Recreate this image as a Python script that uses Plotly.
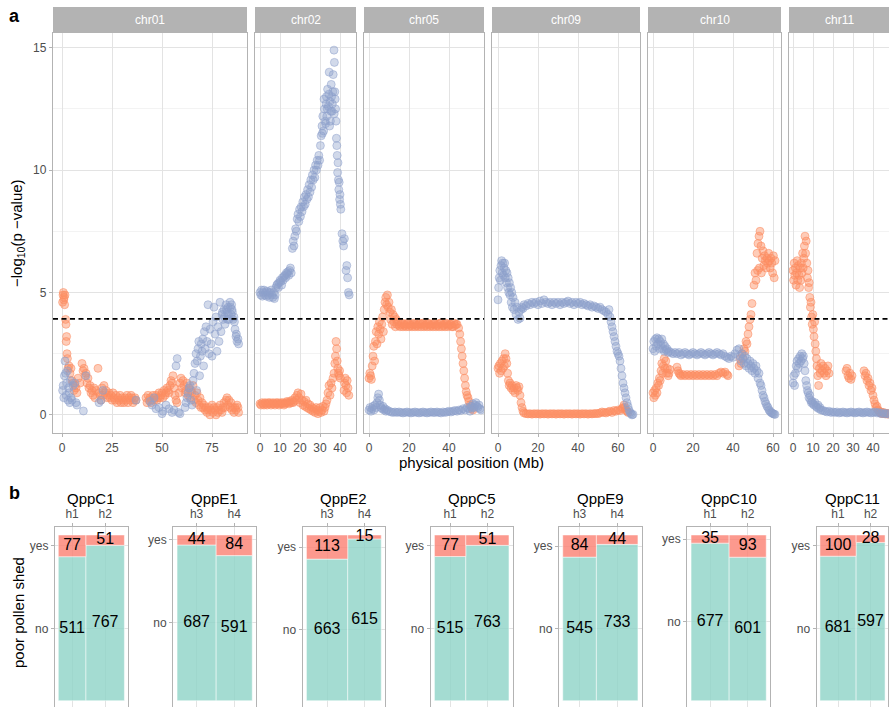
import plotly.graph_objects as go

# ---------------- DATA ----------------
THRESHOLD = 3.92

CHR01_BLUE = [(0.3,1.0),(0.6,1.2),(0.9,0.7),(1.2,1.6),(1.5,2.2),(1.8,1.7),(2.1,0.8),(2.4,1.3),(2.7,1.8),(3.0,0.6),(3.3,1.1),(3.6,0.9),(3.9,0.5),(4.2,1.4),(4.5,0.7),(5.0,0.6),(5.5,1.2),(6.5,1.3),(7.0,0.5),(7.5,0.4),(10.7,0.16),(12.0,1.6),(18.5,0.5),(19.5,0.6),(20.5,1.0),(37.0,0.6),(44.0,0.55),(45.0,0.4),(46.0,0.7),(47.0,0.25),(48.5,0.3),(50.0,0.05),(50.5,0.15),(52.0,0.4),(53.5,0.25),(55.0,0.1),(56.0,0.2),(57.0,2.0),(57.6,2.3),(58.3,0.1),(59.0,0.05),
              (61.5,0.3),(62.0,0.5),(62.5,0.7),(63.0,0.9),(63.5,1.1),(64.0,1.2),(64.5,0.6),(65.0,0.4),(65.5,1.4),(66.0,1.7),(66.5,2.1),(67.0,2.5),(67.3,1.0),(67.6,2.2),(68.0,2.7),(68.4,3.0),(68.8,1.6),(69.2,2.4),(69.6,2.9),(70.0,2.6),(70.4,3.1),(70.8,2.0),(71.2,3.4),(71.6,2.7),(72.0,3.6),(72.5,3.0),(73.0,4.5),(73.5,2.5),(74.0,3.5),(74.5,2.9),(75.0,2.4),(75.5,3.8),(76.0,4.4),(76.5,3.3),(77.0,4.0),(77.5,2.6),(78.0,3.6),(78.5,3.0),(79.0,4.6),(79.5,3.4),(80.0,4.1),(80.2,4.2),(80.5,3.9),(81.0,4.3),(81.2,4.0),(81.5,3.7),(82.0,4.5),(82.2,4.3),(82.5,4.2),(82.8,3.9),(83.0,4.4),(83.2,4.1),(83.5,3.9),(84.0,4.6),(84.2,4.4),(84.5,4.1),(84.8,4.5),(85.0,4.3),(85.2,4.2),(85.5,3.9),(86.0,4.0),(86.2,3.8),(86.5,3.5),(87.0,3.2),(87.2,3.3),(87.5,3.0),(88.0,3.1),(88.3,2.9)]

CHR01_ORANGE = [(0.3,4.6),(0.5,4.9),(0.7,5.0),(0.9,4.7),(1.1,4.8),(1.3,4.5),(1.5,4.9),(1.8,3.9),(2.0,3.7),(2.1,3.0),(2.3,3.2),(2.5,2.5),(2.7,2.3),(3.0,1.9),(3.5,2.0),(4.0,1.7),(4.5,1.9),(5.0,1.4),(5.5,1.3),(6.0,1.0),(6.5,1.2),(7.0,1.1),(7.5,0.9),(8.0,1.5),(9.0,1.3),(10.0,2.1),(10.5,1.8),(11.0,1.9),(11.5,1.6),(12.0,1.7),(12.5,1.3),(13.0,1.5),(13.5,1.1),(14.0,1.2),(14.5,0.9),(15.0,1.0),(15.5,0.8),(16.0,1.1),(16.5,0.7),(17.0,1.0),(18.0,1.9),(18.5,0.9),(19.0,0.8),(19.5,0.6),(20.0,1.1),(20.5,0.8),(21.0,1.2),(21.5,0.9),(22.0,1.0),(22.5,0.7),(23.0,0.8),(23.5,0.9),(24.0,0.7),(24.5,0.8),(25.0,0.6),(25.5,0.9),(26.0,0.7),(26.5,0.6),(27.0,0.8),(27.5,0.5),(28.0,0.7),(28.5,0.6),(29.0,0.8),(29.5,0.5),(30.0,0.7),(30.5,0.6),(31.0,0.5),(31.5,0.7),(32.0,0.6),(32.5,0.8),(33.0,0.5),(33.5,0.7),(34.0,0.6),(34.5,0.8),(35.0,0.7),(35.5,0.5),(36.0,0.6),(36.5,0.7),(37.0,0.6),
                (42.0,0.7),(42.5,0.5),(43.0,0.8),(43.5,0.6),(44.0,0.7),(44.5,0.5),(45.0,0.6),(45.5,0.8),(46.0,0.6),(46.5,0.7),(47.0,0.8),(47.5,0.6),(48.0,0.7),(48.5,0.9),(49.0,0.7),(49.5,0.8),(50.0,0.9),(50.5,0.7),(51.0,1.0),(51.5,0.8),(52.0,0.9),(52.5,1.1),(53.0,1.0),(53.5,0.9),(54.0,1.2),(54.5,1.4),(55.0,1.3),(55.5,1.6),(56.0,1.1),(56.5,0.8),(57.0,0.6),(57.5,0.5),(58.5,0.9),(59.0,1.3),(59.5,1.5),(60.0,1.1),(60.5,1.4),(61.0,1.2),(61.5,0.9),(62.0,1.0),(62.5,1.3),(63.0,0.8),(63.5,1.1),(64.0,0.7),(64.5,1.0),(65.0,0.9),(65.5,1.2),(66.0,0.6),(66.5,0.8),(67.0,0.5),(67.5,0.9),(68.0,0.6),(68.5,0.4),(69.0,0.7),(69.5,0.3),(70.0,0.5),(70.5,0.3),(71.0,0.4),(71.5,0.2),(72.0,0.3),(72.5,0.1),(73.0,0.2),(73.5,0.3),(74.0,0.0),(74.5,0.2),(75.0,0.4),(75.5,0.1),(76.0,0.3),(76.5,0.2),(77.0,0.0),(77.5,0.3),(78.0,0.1),(78.5,0.2),(79.0,0.4),(79.5,0.2),(80.0,0.1),(80.5,0.3),(81.0,0.5),(81.5,0.3),(82.0,0.6),(82.5,0.7),(83.0,0.4),(83.5,0.6),(84.0,0.3),(84.5,0.5),(85.0,0.2),(85.5,0.3),(86.0,0.1),(86.5,0.3),(87.0,0.2),(87.5,0.4),(88.0,0.3),(88.3,0.1)]

CHR02_BLUE = [(0.0,5.0),(0.4,4.9),(0.8,5.1),(1.2,4.85),(1.6,5.0),(2.0,5.1),(2.4,4.9),(2.8,5.0),(3.2,4.85),(3.6,5.05),(4.0,4.9),(4.4,5.0),(4.8,4.8),(5.2,5.0),(5.6,5.1),(6.0,4.9),(6.4,4.8),(6.8,5.0),(7.2,4.75),(7.6,4.9),(8.0,5.2),(8.4,5.3),(8.8,5.35),(9.2,5.2),(9.6,5.4),(10.0,5.5),(10.4,5.45),(10.8,5.3),(11.2,5.6),(11.6,5.5),(12.0,5.65),(12.4,5.7),(12.8,5.6),(13.2,5.8),(13.6,5.75),(14.0,5.85),(14.4,5.7),(14.8,5.9),(15.2,6.0),(15.6,5.8),(16.2,6.8),(16.6,7.1),(17.0,6.9),(17.4,7.3),(17.8,7.6),(18.2,7.5),(18.6,8.0),(19.0,8.2),(19.4,7.9),(19.8,8.4),(20.2,8.1),(20.6,8.5),(21.0,8.3),(21.4,8.7),(21.8,8.5),(22.2,8.9),(22.6,8.6),(23.0,9.0),(23.4,8.8),(23.8,9.2),(24.2,8.9),(24.6,9.4),(25.0,9.1),(25.4,9.6),(25.8,9.3),(26.2,9.8),(26.6,9.6),(27.0,10.0),(27.4,9.7),(27.8,10.2),(28.2,10.0),(28.6,10.4),(29.0,10.2),(29.4,10.6),(29.8,10.4),(30.2,11.0),(30.6,11.4),(31.0,11.8),(31.2,11.5),(31.4,12.2),(31.8,11.6),(32.0,12.9),(32.2,12.5),(32.6,12.0),(32.8,11.9),(33.0,12.7),(33.2,13.0),(33.4,12.2),(33.6,12.5),(33.8,13.3),(34.2,12.6),(34.4,13.1),(34.6,14.0),(34.8,11.8),(35.0,12.8),(35.2,12.0),(35.4,12.4),(35.6,13.5),(35.8,13.0),(36.0,12.4),(36.2,12.7),(36.4,13.2),(36.6,13.9),(37.0,14.9),(37.1,12.3),(37.2,14.4),(37.4,13.2),(37.6,12.9),(37.8,12.5),(38.0,12.0),(38.2,11.3),(38.4,11.0),(38.6,10.6),(38.8,9.9),(39.0,10.3),(39.2,9.6),(39.4,9.2),(39.6,9.5),(39.8,8.8),(40.0,9.0),(40.2,8.6),(40.4,8.4),(41.0,7.4),(41.4,7.1),(41.8,6.9),(42.2,7.2),(43.0,5.9),(43.4,6.1),(43.8,5.6),(44.2,5.0),(44.6,4.9)]

CHR02_ORANGE = [(0.0,0.45),(0.5,0.4),(1.0,0.5),(1.5,0.45),(2.0,0.4),(2.5,0.5),(3.0,0.45),(3.5,0.4),(4.0,0.5),(4.5,0.45),(5.0,0.5),(5.5,0.4),(6.0,0.45),(6.5,0.5),(7.0,0.45),(7.5,0.4),(8.0,0.5),(8.5,0.45),(9.0,0.5),(9.5,0.4),(10.0,0.45),(10.5,0.5),(11.0,0.45),(11.5,0.5),(12.0,0.4),(12.5,0.45),(13.0,0.5),(13.5,0.55),(14.0,0.5),(14.5,0.45),(15.0,0.55),(15.5,0.5),(16.0,0.6),(16.5,0.5),(17.0,0.55),(17.5,0.7),(18.0,0.6),(18.5,0.8),(19.0,0.9),(19.5,0.7),(20.0,0.5),(20.5,0.85),(21.0,0.6),(21.5,0.4),(22.0,0.55),(22.5,0.35),(23.0,0.6),(23.5,0.3),(24.0,0.45),(24.5,0.25),(25.0,0.4),(25.5,0.2),(26.0,0.3),(26.5,0.15),(27.0,0.25),(27.5,0.1),(28.0,0.3),(28.5,0.2),(29.0,0.05),(29.5,0.15),(30.0,0.3),(30.5,0.1),(31.0,0.2),(31.5,0.35),(32.0,0.15),(32.5,0.3),(33.0,0.45),(33.5,0.6),(34.0,0.9),(34.5,1.2),(35.0,0.8),(35.5,1.3),(36.0,1.1),(36.5,1.5),(37.0,1.7),(37.4,2.1),(37.7,2.4),(38.0,3.0),(38.3,2.7),(38.6,2.2),(38.9,1.9),(39.2,1.7),(39.5,1.6),(39.8,1.8),(40.2,1.5),(42.0,1.0),(42.3,1.3),(42.6,1.5),(43.0,1.2),(43.3,0.9),(43.6,1.4),(44.0,1.1),(44.4,0.8)]

CHR05_BLUE = [(0.0,0.2),(0.5,0.3),(1.0,0.15),(1.5,0.25),(2.0,0.35),(2.5,0.2),(3.0,0.4),(3.5,0.3),(4.0,0.5),(4.4,0.7),(4.8,0.85),(5.2,0.6),(5.6,0.4),(6.0,0.3),(6.5,0.25),(7.0,0.35),(7.5,0.2),(8.0,0.25),(8.5,0.15),(9.0,0.2),(10.0,0.15),(11.0,0.12),(12.0,0.1),(13.0,0.12),(14.0,0.1),(15.0,0.12),(16.0,0.1),(17.0,0.08),(18.0,0.1),(19.0,0.12),(20.0,0.1),(21.0,0.08),(22.0,0.1),(23.0,0.12),(24.0,0.1),(25.0,0.08),(26.0,0.1),(27.0,0.12),(28.0,0.1),(29.0,0.08),(30.0,0.1),(31.0,0.12),(32.0,0.1),(33.0,0.1),(34.0,0.12),(35.0,0.1),(36.0,0.08),(37.0,0.12),(38.0,0.1),(39.0,0.12),(40.0,0.15),(41.0,0.12),(42.0,0.15),(43.0,0.18),(44.0,0.15),(45.0,0.2),(46.0,0.18),(47.0,0.25),(48.0,0.2),(49.0,0.3),(50.0,0.25),(50.5,0.15),(51.0,0.35),(51.5,0.3),(52.0,0.45),(52.5,0.3),(53.0,0.4),(53.5,0.5),(54.0,0.35),(54.5,0.3),(55.0,0.4),(55.5,0.25),(56.0,0.2)]

CHR05_ORANGE = [(0.0,1.5),(0.4,1.7),(0.8,1.6),(1.2,1.45),(1.6,2.0),(2.0,2.4),(2.4,2.8),(2.8,2.2),(3.2,3.0),(3.6,3.4),(4.0,2.9),(4.4,3.6),(4.8,3.3),(5.2,3.8),(5.6,3.5),(6.0,3.1),(6.4,3.7),(6.8,4.0),(7.2,3.4),(7.6,4.3),(8.0,4.6),(8.4,4.8),(8.8,4.5),(9.2,4.9),(9.6,4.4),(10.0,4.6),(10.4,4.2),(10.8,3.9),(11.2,4.3),(11.6,3.7),(12.0,4.1),(12.4,3.8),(12.8,4.0),(13.2,3.6),(13.6,3.9),(14.0,3.7),(14.5,3.8),(15.0,3.65),(15.5,3.6),(16.0,3.7),(16.5,3.75),(17.0,3.6),(17.5,3.7),(18.0,3.65),(18.5,3.6),(19.0,3.7),(19.5,3.75),(20.0,3.6),(20.5,3.7),(21.0,3.65),(21.5,3.6),(22.0,3.7),(22.5,3.75),(23.0,3.6),(23.5,3.7),(24.0,3.65),(24.5,3.6),(25.0,3.7),(25.5,3.75),(26.0,3.6),(26.5,3.7),(27.0,3.75),(27.5,3.6),(28.0,3.65),(28.5,3.7),(29.0,3.6),(29.5,3.75),(30.0,3.7),(30.5,3.6),(31.0,3.65),(31.5,3.7),(32.0,3.6),(32.5,3.75),(33.0,3.7),(33.5,3.6),(34.0,3.65),(34.5,3.7),(35.0,3.6),(35.5,3.75),(36.0,3.75),(36.5,3.6),(37.0,3.65),(37.5,3.7),(38.0,3.6),(38.5,3.75),(39.0,3.7),(39.5,3.6),(40.0,3.65),(40.5,3.7),(41.0,3.7),(41.5,3.6),(42.0,3.6),(42.5,3.75),(43.0,3.65),(43.5,3.7),(44.0,3.7),(44.8,3.55),(45.4,3.3),(45.8,3.0),(46.2,2.7),(46.6,2.4),(47.0,2.1),(47.4,1.8),(47.8,1.5),(48.2,1.2),(48.6,0.95),(49.0,0.8),(49.5,0.7),(50.0,0.55),(50.5,0.4),(51.0,0.35),(51.5,0.25),(52.0,0.2)]

CHR09_BLUE = [(0.0,4.7),(0.3,5.2),(0.6,5.6),(0.9,5.9),(1.2,5.5),(1.5,6.1),(1.8,6.3),(2.1,5.8),(2.4,6.2),(2.7,5.7),(3.0,6.0),(3.3,6.2),(3.6,5.6),(3.9,5.9),(4.2,5.4),(4.5,5.8),(4.8,5.2),(5.1,5.6),(5.4,5.0),(5.7,5.4),(6.0,4.9),(6.3,5.2),(6.6,4.6),(6.9,5.0),(7.2,4.4),(7.5,4.8),(8.0,4.3),(8.5,4.6),(9.0,4.1),(9.5,4.4),(10.0,3.9),(10.5,4.2),(11.0,3.95),(11.5,4.3),(12.0,4.4),(12.5,4.35),(13.0,4.5),(14.0,4.45),(15.0,4.55),(16.0,4.5),(17.0,4.6),(18.0,4.55),(19.0,4.6),(20.0,4.5),(21.0,4.65),(22.0,4.55),(23.0,4.7),(24.0,4.6),(25.0,4.55),(26.0,4.6),(27.0,4.5),(28.0,4.6),(29.0,4.55),(30.0,4.6),(31.0,4.5),(32.0,4.6),(33.0,4.55),(34.0,4.6),(35.0,4.65),(36.0,4.55),(37.0,4.6),(38.0,4.5),(39.0,4.6),(40.0,4.55),(41.0,4.6),(42.0,4.5),(43.0,4.55),(44.0,4.5),(45.0,4.45),(46.0,4.5),(47.0,4.4),(48.0,4.45),(49.0,4.4),(50.0,4.35),(51.0,4.4),(52.0,4.3),(53.0,4.25),(54.0,4.2),(55.0,4.1),(55.5,4.3),(56.0,4.0),(56.5,3.8),(57.0,3.6),(57.5,3.4),(58.0,3.2),(58.5,3.0),(59.0,2.8),(59.5,2.6),(60.0,2.5),(60.5,2.4),(61.0,2.2),(61.5,1.9),(62.0,1.6),(62.5,1.3),(63.0,1.1),(63.5,0.9),(64.0,0.7),(64.5,0.5),(65.0,0.35),(65.5,0.2),(66.0,0.1),(66.5,0.05),(67.0,0.0),(67.5,0.02)]

CHR09_ORANGE = [(0.0,1.9),(0.4,2.0),(0.8,1.7),(1.2,2.1),(1.6,1.8),(2.0,2.2),(2.4,1.9),(2.8,2.3),(3.2,2.0),(3.6,2.5),(4.0,2.3),(4.4,2.1),(4.8,1.7),(5.2,1.4),(5.6,1.2),(6.0,1.3),(6.5,1.1),(7.0,1.2),(7.5,1.0),(8.0,1.1),(8.5,0.9),(9.0,1.2),(9.5,1.1),(10.0,1.0),(10.5,1.15),(11.0,0.8),(11.5,0.5),(12.0,0.3),(12.5,0.15),(13.0,0.08),(14.0,0.05),(15.0,0.04),(16.0,0.05),(17.0,0.03),(18.0,0.05),(19.0,0.04),(20.0,0.05),(21.0,0.03),(22.0,0.05),(23.0,0.04),(24.0,0.05),(25.0,0.03),(26.0,0.05),(27.0,0.04),(28.0,0.05),(29.0,0.03),(30.0,0.05),(31.0,0.04),(32.0,0.05),(33.0,0.03),(34.0,0.05),(35.0,0.04),(36.0,0.05),(37.0,0.03),(38.0,0.05),(39.0,0.04),(40.0,0.05),(41.0,0.03),(42.0,0.05),(43.0,0.04),(44.0,0.05),(45.0,0.03),(46.0,0.05),(47.0,0.04),(48.0,0.05),(49.0,0.06),(50.0,0.05),(51.0,0.08),(52.0,0.12),(53.0,0.1),(54.0,0.08),(55.0,0.12),(56.0,0.15),(57.0,0.1),(58.0,0.18),(59.0,0.15),(60.0,0.2),(61.0,0.18),(62.0,0.25),(62.5,0.3),(63.0,0.4),(63.5,0.3),(64.0,0.2),(64.5,0.15),(65.0,0.1)]

CHR10_BLUE = [(0.0,2.7),(0.4,3.0),(0.8,2.6),(1.2,3.1),(1.6,2.8),(2.0,3.15),(2.4,2.9),(2.8,3.1),(3.2,2.7),(3.6,3.0),(4.0,2.85),(4.4,3.1),(4.8,2.7),(5.2,2.9),(5.6,2.6),(6.0,2.8),(6.5,2.65),(7.0,2.7),(7.5,2.55),(8.0,2.6),(9.0,2.55),(10.0,2.5),(11.0,2.55),(12.0,2.5),(13.0,2.55),(14.0,2.45),(15.0,2.5),(16.0,2.55),(17.0,2.5),(18.0,2.45),(19.0,2.5),(20.0,2.55),(21.0,2.5),(22.0,2.45),(23.0,2.5),(24.0,2.55),(25.0,2.5),(26.0,2.45),(27.0,2.5),(28.0,2.55),(29.0,2.5),(30.0,2.45),(31.0,2.5),(32.0,2.55),(33.0,2.5),(34.0,2.45),(35.0,2.5),(36.0,2.4),(37.0,2.35),(38.0,2.3),(39.0,2.4),(40.0,2.35),(41.0,2.5),(42.0,2.65),(43.0,2.7),(43.5,2.4),(44.0,2.2),(44.5,2.5),(45.0,2.3),(45.5,2.1),(46.0,2.4),(46.5,2.0),(47.0,2.3),(47.5,2.1),(48.0,1.9),(48.5,2.2),(49.0,2.0),(49.5,1.8),(50.0,2.1),(50.5,1.9),(51.0,1.7),(51.5,2.0),(52.0,1.8),(52.5,1.5),(53.0,1.7),(53.5,1.3),(54.0,1.2),(54.5,1.0),(55.0,0.8),(55.5,0.7),(56.0,0.55),(56.5,0.45),(57.0,0.35),(57.5,0.3),(58.0,0.2),(58.5,0.15),(59.0,0.1),(59.5,0.08),(60.0,0.05),(60.5,0.03),(61.0,0.02)]

CHR10_ORANGE = [(0.0,0.9),(0.4,0.7),(0.8,1.0),(1.2,0.8),(1.6,1.1),(2.0,0.9),(2.4,1.3),(2.8,1.2),(3.2,1.5),(3.6,1.4),(4.0,1.8),(4.4,2.1),(4.8,1.7),(5.2,2.0),(5.6,2.3),(6.0,1.9),(6.4,2.2),(6.8,1.7),(7.2,1.9),(7.6,1.6),(8.0,1.7),(8.5,1.85),(12.0,1.95),(12.5,1.8),(13.0,1.7),(13.5,1.65),(14.0,1.6),(15.0,1.65),(16.0,1.6),(17.0,1.65),(18.0,1.6),(19.0,1.65),(20.0,1.6),(21.0,1.65),(22.0,1.6),(23.0,1.65),(24.0,1.6),(25.0,1.65),(26.0,1.6),(27.0,1.65),(28.0,1.6),(29.0,1.65),(30.0,1.6),(31.0,1.65),(32.0,1.6),(33.0,1.7),(34.0,1.75),(35.0,1.7),(36.0,1.75),(37.0,1.65),(37.5,1.6),(43.0,2.0),(43.5,2.3),(44.0,2.1),(44.5,2.5),(45.0,2.3),(45.5,2.7),(46.0,2.6),(46.5,3.0),(47.0,2.9),(47.5,3.3),(48.0,3.6),(48.5,3.9),(49.0,4.1),(49.5,4.55),(50.5,5.3),(51.0,5.8),(51.5,5.5),(52.0,6.6),(52.3,5.9),(52.5,7.0),(53.0,7.3),(53.2,6.0),(53.5,7.5),(54.0,6.9),(54.2,5.8),(54.6,6.4),(55.0,6.7),(55.4,6.1),(55.8,6.5),(56.2,6.3),(56.6,6.0),(57.0,6.4),(57.4,6.2),(57.8,6.6),(58.2,6.3),(58.6,6.0),(59.0,6.4),(59.4,6.2),(59.8,5.8),(60.2,6.5),(60.6,5.6),(61.0,6.3)]

CHR11_BLUE = [(0.0,1.3),(0.4,1.6),(0.8,1.2),(1.2,1.7),(1.6,2.0),(2.0,2.2),(2.4,1.9),(2.8,2.3),(3.2,2.1),(3.6,2.4),(4.0,2.2),(4.4,2.5),(4.8,2.3),(5.2,2.4),(5.6,2.1),(6.0,1.8),(6.4,1.4),(6.8,1.2),(7.2,1.0),(7.6,0.9),(8.0,0.7),(8.4,0.8),(8.8,0.6),(9.2,0.5),(9.6,0.55),(10.0,0.45),(10.5,0.4),(11.0,0.5),(11.5,0.35),(12.0,0.3),(12.5,0.4),(13.0,0.25),(13.5,0.3),(14.0,0.2),(15.0,0.18),(16.0,0.15),(17.0,0.12),(18.0,0.15),(19.0,0.1),(20.0,0.12),(21.0,0.1),(22.0,0.12),(23.0,0.08),(24.0,0.1),(25.0,0.12),(26.0,0.1),(27.0,0.08),(28.0,0.1),(29.0,0.12),(30.0,0.1),(31.0,0.08),(32.0,0.1),(33.0,0.12),(34.0,0.1),(35.0,0.08),(36.0,0.1),(37.0,0.12),(38.0,0.1),(39.0,0.08),(40.0,0.1),(41.0,0.12),(42.0,0.08),(43.0,0.1),(44.0,0.05),(45.0,0.08),(46.0,0.04),(47.0,0.06),(48.0,0.03)]

CHR11_ORANGE = [(0.0,5.9),(0.3,5.5),(0.6,6.2),(0.9,5.7),(1.2,6.0),(1.5,5.3),(1.8,5.8),(2.1,6.3),(2.4,5.5),(2.7,6.1),(3.0,5.7),(3.3,5.2),(3.6,6.0),(3.9,5.5),(4.2,6.2),(4.5,5.8),(4.8,6.6),(5.1,6.0),(5.4,6.4),(5.7,6.9),(6.0,7.3),(6.3,6.6),(6.6,7.1),(6.9,6.2),(7.2,5.6),(7.5,5.9),(7.8,5.2),(8.1,5.4),(8.4,4.8),(8.7,4.4),(9.0,4.6),(9.3,4.0),(9.6,3.7),(9.9,4.1),(10.2,3.5),(10.5,3.2),(10.8,3.8),(11.1,2.9),(11.4,2.6),(11.7,2.3),(12.0,2.0),(12.4,1.6),(12.8,1.2),(13.2,1.9),(13.6,1.7),(14.0,2.1),(14.5,1.8),(15.0,2.0),(15.5,1.7),(16.0,1.9),(16.5,1.6),(17.0,1.8),(17.5,2.0),(18.0,1.7),(26.5,1.8),(27.0,1.9),(27.5,1.6),(28.0,1.5),(28.5,1.7),(29.0,1.45),(29.5,1.6),(35.5,1.8),(36.0,1.6),(36.5,1.7),(37.0,1.4),(37.5,1.5),(38.0,1.2),(38.5,1.3),(39.0,1.0),(39.5,1.1),(40.0,0.8),(40.5,0.6),(41.0,0.45),(41.5,0.3),(42.0,0.35),(42.5,0.2),(43.0,0.15),(43.5,0.1),(44.0,0.12),(44.5,0.05),(45.0,0.1),(45.5,0.05),(46.0,0.08),(46.5,0.04),(47.0,0.06),(47.5,0.03),(48.0,0.05)]

CHROMOSOMES = ["chr01", "chr02", "chr05", "chr09", "chr10", "chr11"]
ORANGE_SERIES = [CHR01_ORANGE, CHR02_ORANGE, CHR05_ORANGE, CHR09_ORANGE, CHR10_ORANGE, CHR11_ORANGE]
BLUE_SERIES = [CHR01_BLUE, CHR02_BLUE, CHR05_BLUE, CHR09_BLUE, CHR10_BLUE, CHR11_BLUE]
TOP_XTICKS = [[0, 25, 50, 75], [0, 10, 20, 30, 40], [0, 20, 40], [0, 20, 40, 60], [0, 20, 40, 60], [0, 10, 20, 30, 40]]
TOP_YTICKS = [0, 5, 10, 15]
TOP_YMINOR = [2.5, 7.5, 12.5]

MOSAIC_TITLES = ["QppC1", "QppE1", "QppE2", "QppC5", "QppE9", "QppC10", "QppC11"]
MOSAIC_HAPS = [["h1", "h2"], ["h3", "h4"], ["h3", "h4"], ["h1", "h2"], ["h3", "h4"], ["h1", "h2"], ["h1", "h2"]]
MOSAIC_YES = [[77, 51], [44, 84], [113, 15], [77, 51], [84, 44], [35, 93], [100, 28]]
MOSAIC_NO = [[511, 767], [687, 591], [663, 615], [515, 763], [545, 733], [677, 601], [681, 597]]

# ---------------- LAYOUT / STYLE ----------------
W, H = 889, 707
FONT = "Liberation Sans, Arial, Helvetica, sans-serif"
GRID = "#E3E3E3"
GRID_MINOR = "#EEEEEE"
BORDER = "#B3B3B3"
TICKTXT = "#4D4D4D"
BLUE_FILL = "rgba(141,160,203,0.40)"
BLUE_LINE = "rgba(141,160,203,0.50)"
ORANGE_FILL = "rgba(252,141,98,0.45)"
ORANGE_LINE = "rgba(252,141,98,0.55)"
NO_FILL = "rgba(141,211,199,0.8)"
YES_FILL = "rgba(251,128,114,0.8)"


def fx(p):
    return p / W


def fy(p):
    return 1 - p / H


TOP_DOM_PX = [(53, 247), (255, 356), (364, 484), (492, 640), (648, 781), (789, 889)]
TOP_XRANGE = [[-4.5, 92.5], [-2.5, 48], [-2.5, 57.5], [-3, 71], [-2.5, 64], [-2, 48]]
TOP_Y_PX = (33, 433)
TOP_YRANGE = [-0.74, 15.6]
STRIP_PX = (7, 33)

MOS_DOM_PX = [(55, 127.7), (173.3, 256), (302.7, 385), (430.7, 512.7), (559, 641.7), (687.3, 770), (816.7, 888.3)]
MOS_TOP_PX = 526.7
MOS_YRANGE = [-0.038, 1.05]
MOS_XRANGE = [-0.05, 1.05]

fig = go.Figure()
layout = dict(
    width=W, height=H, margin=dict(l=0, r=0, t=0, b=0),
    paper_bgcolor="white", plot_bgcolor="white", showlegend=False,
    barmode="overlay", font=dict(family=FONT, color="black"),
)
shapes = []
annotations = []

for i, name in enumerate(CHROMOSOMES):
    n = i + 1
    xa = "x" if n == 1 else f"x{n}"
    ya = "y" if n == 1 else f"y{n}"
    for series, fill, line in ((ORANGE_SERIES[i], ORANGE_FILL, ORANGE_LINE), (BLUE_SERIES[i], BLUE_FILL, BLUE_LINE)):
        fig.add_trace(go.Scatter(
            x=[p for p, v in series], y=[v for p, v in series], mode="markers",
            marker=dict(size=8, color=fill, line=dict(color=line, width=1)),
            xaxis=xa, yaxis=ya, hoverinfo="skip", cliponaxis=True,
        ))
    a, b = TOP_DOM_PX[i]
    layout[f"xaxis{n}" if n > 1 else "xaxis"] = dict(
        domain=[fx(a), fx(b)], range=TOP_XRANGE[i], anchor=ya,
        tickvals=TOP_XTICKS[i], showgrid=True, gridcolor=GRID, gridwidth=1,
        zeroline=False, showline=True, mirror=True, linecolor=BORDER, linewidth=1.2,
        ticks="outside", ticklen=3, tickcolor=BORDER, tickwidth=1,
        tickfont=dict(size=12, color=TICKTXT, family=FONT),
    )
    layout[f"yaxis{n}" if n > 1 else "yaxis"] = dict(
        domain=[fy(TOP_Y_PX[1]), fy(TOP_Y_PX[0])], range=TOP_YRANGE, anchor=xa,
        tickvals=TOP_YTICKS, showticklabels=(n == 1), ticks="outside" if n == 1 else "",
        ticklen=3, tickcolor=BORDER, tickwidth=1,
        showgrid=True, gridcolor=GRID, gridwidth=1,
        minor=dict(tickvals=TOP_YMINOR, showgrid=True, gridcolor=GRID_MINOR, gridwidth=0.7, ticks=""),
        zeroline=False, showline=True, mirror=True, linecolor=BORDER, linewidth=1.2,
        tickfont=dict(size=12, color=TICKTXT, family=FONT),
    )
    shapes.append(dict(type="rect", xref="paper", yref="paper", x0=fx(a), x1=fx(b),
                       y0=fy(STRIP_PX[1]), y1=fy(STRIP_PX[0]), fillcolor=BORDER, line=dict(width=0), layer="above"))
    annotations.append(dict(text=name, xref="paper", yref="paper", x=fx((a + b) / 2), y=fy(sum(STRIP_PX) / 2),
                            showarrow=False, font=dict(size=12, color="white", family=FONT),
                            xanchor="center", yanchor="middle"))
    shapes.append(dict(type="line", xref=f"{xa} domain", yref=ya, x0=0, x1=1, y0=THRESHOLD, y1=THRESHOLD,
                       line=dict(color="black", width=1.6, dash="5px,3.5px"), layer="above"))

# Mosaic panels
for k, title in enumerate(MOSAIC_TITLES):
    n = 7 + k
    xa, ya = f"x{n}", f"y{n}"
    yes, no = MOSAIC_YES[k], MOSAIC_NO[k]
    totals = [y + o for y, o in zip(yes, no)]
    grand = sum(totals)
    widths = [t / grand for t in totals]
    starts = [sum(widths[:j]) for j in range(len(widths))]
    centers = [s + w / 2 for s, w in zip(starts, widths)]
    no_frac = [o / t for o, t in zip(no, totals)]
    yes_frac = [y / t for y, t in zip(yes, totals)]
    fig.add_trace(go.Bar(x=centers, y=no_frac, base=[0] * len(centers), width=widths,
                         marker=dict(color=NO_FILL, line=dict(color="rgba(255,255,255,0.7)", width=0.7)),
                         xaxis=xa, yaxis=ya, hoverinfo="skip"))
    fig.add_trace(go.Bar(x=centers, y=yes_frac, base=no_frac, width=widths,
                         marker=dict(color=YES_FILL, line=dict(color="rgba(255,255,255,0.7)", width=0.7)),
                         xaxis=xa, yaxis=ya, hoverinfo="skip"))
    fig.add_trace(go.Scatter(
        x=centers + centers, y=[f / 2 for f in no_frac] + [nf + yf / 2 for nf, yf in zip(no_frac, yes_frac)],
        text=[str(v) for v in no] + [str(v) for v in yes], mode="text",
        textfont=dict(size=16, color="black", family=FONT), xaxis=xa, yaxis=ya,
        hoverinfo="skip", cliponaxis=False))
    a, b = MOS_DOM_PX[k]
    layout[f"xaxis{n}"] = dict(
        domain=[fx(a), fx(b)], range=MOS_XRANGE, anchor=ya, side="top",
        tickvals=centers, ticktext=MOSAIC_HAPS[k], showgrid=True, gridcolor=GRID, gridwidth=1,
        zeroline=False, showline=True, mirror=True, linecolor=BORDER, linewidth=1.2,
        ticks="outside", ticklen=3, tickcolor=BORDER, tickwidth=1,
        tickfont=dict(size=12, color=TICKTXT, family=FONT),
    )
    layout[f"yaxis{n}"] = dict(
        domain=[0, fy(MOS_TOP_PX)], range=MOS_YRANGE, anchor=xa,
        tickvals=[no_frac[0] / 2, no_frac[0] + yes_frac[0] / 2], ticktext=["no", "yes"],
        showgrid=True, gridcolor=GRID, gridwidth=1,
        zeroline=False, showline=True, mirror=True, linecolor=BORDER, linewidth=1.2,
        ticks="outside", ticklen=3, tickcolor=BORDER, tickwidth=1,
        tickfont=dict(size=12, color=TICKTXT, family=FONT),
    )
    annotations.append(dict(text=title, xref="paper", yref="paper", x=fx((a + b) / 2), y=fy(499),
                            showarrow=False, font=dict(size=15, color="black", family=FONT),
                            xanchor="center", yanchor="middle"))

# Titles / labels
annotations += [
    dict(text="−log<sub>10</sub>(p −value)", xref="paper", yref="paper", x=fx(18), y=fy(233),
         textangle=-90, showarrow=False, font=dict(size=15, color="black", family=FONT),
         xanchor="center", yanchor="middle"),
    dict(text="physical position (Mb)", xref="paper", yref="paper", x=fx(471), y=fy(462),
         showarrow=False, font=dict(size=15, color="black", family=FONT), xanchor="center", yanchor="middle"),
    dict(text="poor pollen shed", xref="paper", yref="paper", x=fx(18), y=fy(613),
         textangle=-90, showarrow=False, font=dict(size=15, color="black", family=FONT),
         xanchor="center", yanchor="middle"),
    dict(text="<b>a</b>", xref="paper", yref="paper", x=fx(14), y=fy(16),
         showarrow=False, font=dict(size=18, color="black", family=FONT), xanchor="center", yanchor="middle"),
    dict(text="<b>b</b>", xref="paper", yref="paper", x=fx(14), y=fy(493),
         showarrow=False, font=dict(size=18, color="black", family=FONT), xanchor="center", yanchor="middle"),
]

layout["shapes"] = shapes
layout["annotations"] = annotations
fig.update_layout(**layout)
fig.write_html(
    "out.html",
    config={"displayModeBar": False, "staticPlot": True},
    post_script="document.body.style.margin='0';document.body.style.padding='0';document.body.style.overflow='hidden';",
)
